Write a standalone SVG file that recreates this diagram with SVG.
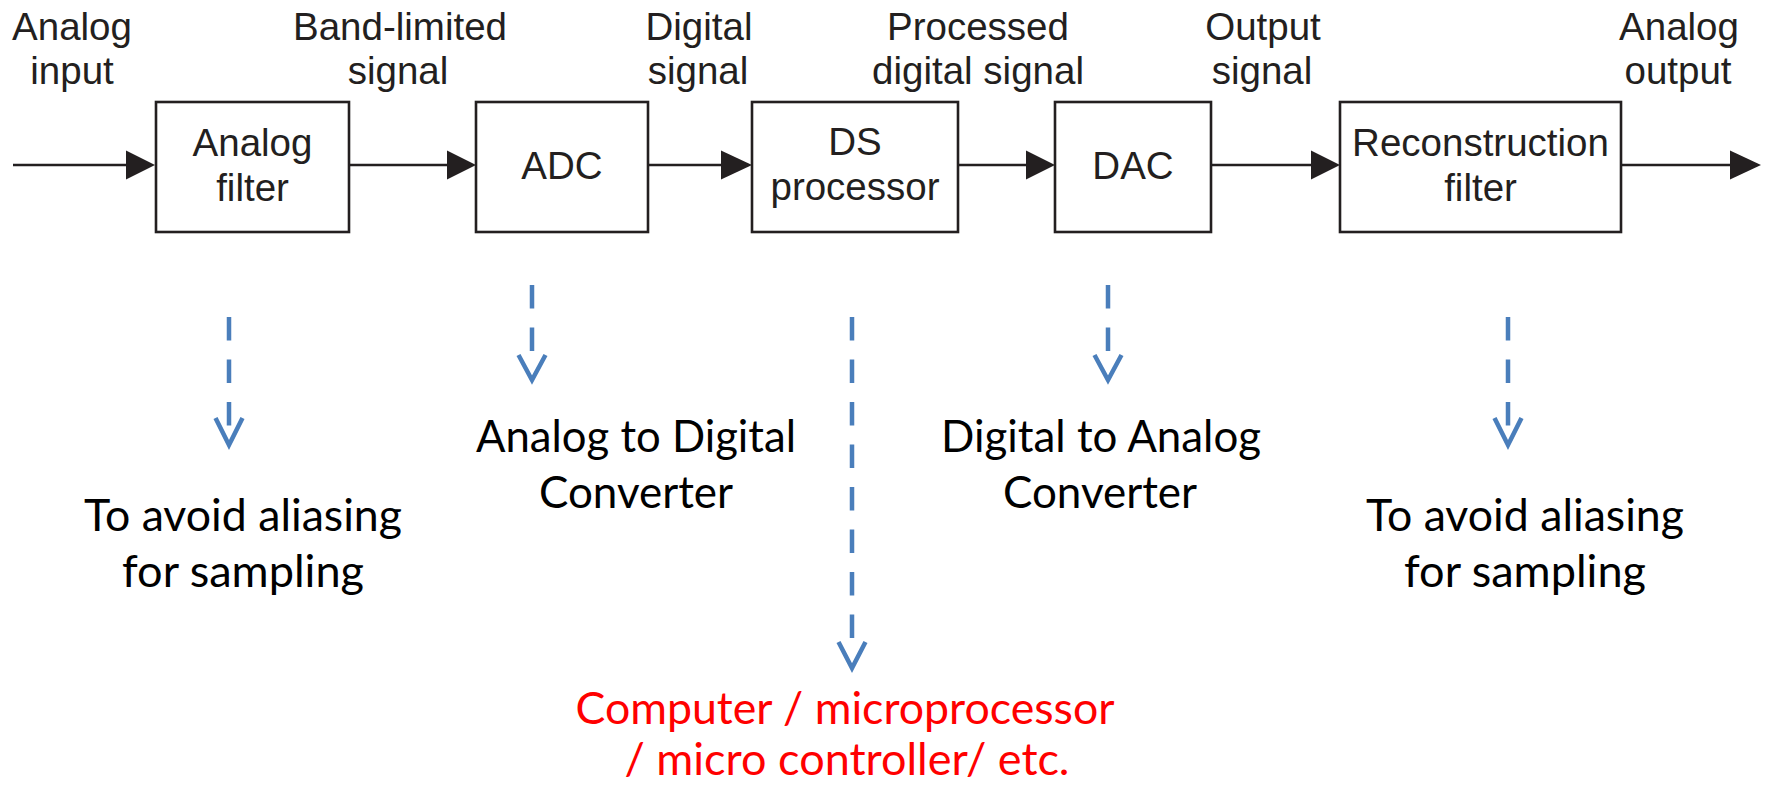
<svg xmlns="http://www.w3.org/2000/svg" width="1767" height="785" viewBox="0 0 1767 785">
  <style>
    .box { fill: #ffffff; stroke: #231f20; stroke-width: 2.6; }
    .wire { stroke: #231f20; stroke-width: 2.4; fill: none; }
    .head { fill: #231f20; }
    .lbl { font-family: "Liberation Sans", Arial, sans-serif; font-size: 38.5px; fill: #231f20; text-anchor: middle; }
    .note { font-family: Lato, "Liberation Sans", sans-serif; font-size: 44px; fill: #000000; text-anchor: middle; }
    .red { fill: #ff0000; }
    .dash { stroke: #4a7ebb; stroke-width: 4.5; fill: none; stroke-dasharray: 23.5 19; }
    .vee { stroke: #4a7ebb; stroke-width: 4.5; fill: none; stroke-linejoin: miter; }
  </style>

  <!-- signal labels above the chain -->
  <g id="signal-labels">
    <text class="lbl" x="72" y="40">Analog</text>
    <text class="lbl" x="72" y="84">input</text>
    <text class="lbl" x="400" y="40">Band-limited</text>
    <text class="lbl" x="398" y="84">signal</text>
    <text class="lbl" x="699" y="40">Digital</text>
    <text class="lbl" x="698" y="84">signal</text>
    <text class="lbl" x="978" y="40">Processed</text>
    <text class="lbl" x="978" y="84">digital signal</text>
    <text class="lbl" x="1263" y="40">Output</text>
    <text class="lbl" x="1262" y="84">signal</text>
    <text class="lbl" x="1679" y="40">Analog</text>
    <text class="lbl" x="1678" y="84">output</text>
  </g>

  <!-- signal chain connectors -->
  <g id="connectors">
    <line class="wire" x1="13" y1="165" x2="128" y2="165"/>
    <polygon class="head" points="126,150.5 155,165 126,179.5"/>
    <line class="wire" x1="349" y1="165" x2="449" y2="165"/>
    <polygon class="head" points="447,150.5 476,165 447,179.5"/>
    <line class="wire" x1="648" y1="165" x2="723" y2="165"/>
    <polygon class="head" points="721,150.5 752,165 721,179.5"/>
    <line class="wire" x1="958" y1="165" x2="1028" y2="165"/>
    <polygon class="head" points="1026,150.5 1055,165 1026,179.5"/>
    <line class="wire" x1="1211" y1="165" x2="1313" y2="165"/>
    <polygon class="head" points="1311,150.5 1340,165 1311,179.5"/>
    <line class="wire" x1="1621" y1="165" x2="1732" y2="165"/>
    <polygon class="head" points="1730,150.5 1761,165 1730,179.5"/>
  </g>

  <!-- processing blocks -->
  <g id="analog-filter">
    <rect class="box" x="156" y="102" width="193" height="130"/>
    <text class="lbl" x="252.5" y="156">Analog</text>
    <text class="lbl" x="252.5" y="201">filter</text>
  </g>
  <g id="adc">
    <rect class="box" x="476" y="102" width="172" height="130"/>
    <text class="lbl" x="562" y="179">ADC</text>
  </g>
  <g id="ds-processor">
    <rect class="box" x="752" y="102" width="206" height="130"/>
    <text class="lbl" x="855" y="155">DS</text>
    <text class="lbl" x="855" y="200">processor</text>
  </g>
  <g id="dac">
    <rect class="box" x="1055" y="102" width="156" height="130"/>
    <text class="lbl" x="1133" y="179">DAC</text>
  </g>
  <g id="reconstruction-filter">
    <rect class="box" x="1340" y="102" width="281" height="130"/>
    <text class="lbl" x="1480.5" y="156">Reconstruction</text>
    <text class="lbl" x="1480.5" y="201">filter</text>
  </g>

  <!-- explanatory pointers -->
  <g id="pointers">
    <line class="dash" x1="229" y1="317" x2="229" y2="425.5"/>
    <polyline class="vee" points="215.5,418 229,445 242.5,418"/>
    <line class="dash" x1="532" y1="285" x2="532" y2="351"/>
    <polyline class="vee" points="518.5,355 532,380 545.5,355"/>
    <line class="dash" x1="852" y1="317" x2="852" y2="638"/>
    <polyline class="vee" points="838.5,642 852,668 865.5,642"/>
    <line class="dash" x1="1108" y1="285" x2="1108" y2="351"/>
    <polyline class="vee" points="1094.5,355 1108,380 1121.5,355"/>
    <line class="dash" x1="1508" y1="317" x2="1508" y2="425.5"/>
    <polyline class="vee" points="1494.5,418 1508,445 1521.5,418"/>
  </g>

  <!-- explanations -->
  <g id="note-analog-filter">
    <text class="note" x="243" y="531" textLength="318" lengthAdjust="spacingAndGlyphs">To avoid aliasing</text>
    <text class="note" x="243" y="587" textLength="242" lengthAdjust="spacingAndGlyphs">for sampling</text>
  </g>
  <g id="note-adc">
    <text class="note" x="636" y="452" textLength="320" lengthAdjust="spacingAndGlyphs">Analog to Digital</text>
    <text class="note" x="636" y="508" textLength="194" lengthAdjust="spacingAndGlyphs">Converter</text>
  </g>
  <g id="note-dac">
    <text class="note" x="1101" y="452" textLength="320" lengthAdjust="spacingAndGlyphs">Digital to Analog</text>
    <text class="note" x="1100" y="508" textLength="194" lengthAdjust="spacingAndGlyphs">Converter</text>
  </g>
  <g id="note-reconstruction">
    <text class="note" x="1525" y="531" textLength="318" lengthAdjust="spacingAndGlyphs">To avoid aliasing</text>
    <text class="note" x="1525" y="587" textLength="242" lengthAdjust="spacingAndGlyphs">for sampling</text>
  </g>
  <g id="note-processor">
    <text class="note red" x="845" y="724" textLength="539" lengthAdjust="spacingAndGlyphs">Computer / microprocessor</text>
    <text class="note red" x="847" y="775" textLength="445" lengthAdjust="spacingAndGlyphs">/ micro controller/ etc.</text>
  </g>
</svg>
